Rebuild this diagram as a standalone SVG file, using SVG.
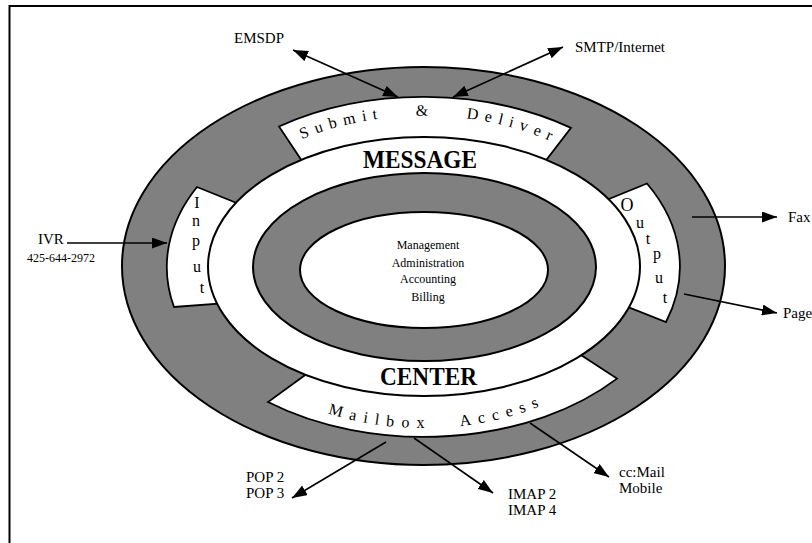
<svg xmlns="http://www.w3.org/2000/svg" width="812" height="543" viewBox="0 0 812 543">
<style>
.frame{stroke:#000;stroke-width:2;fill:none}
.grey{fill:#808080;stroke:#000;stroke-width:2}
.white{fill:#fff;stroke:#000;stroke-width:2}
.band{fill:#fff;stroke:#000;stroke-width:1.8;stroke-linejoin:miter}
.lbl{font-family:"Liberation Serif","Times New Roman",serif;font-size:15px;fill:#000}
.small{font-family:"Liberation Serif","Times New Roman",serif;font-size:12px;fill:#000}
.big{font-family:"Liberation Serif","Times New Roman",serif;font-size:26px;font-weight:bold;fill:#000}
.curve{font-family:"Liberation Serif","Times New Roman",serif;font-size:16px;fill:#000}
.vert{font-family:"Liberation Serif","Times New Roman",serif;font-size:16px;fill:#000}
.conn{stroke:#000;stroke-width:1.6;fill:none}
</style>
<defs>
<marker id="ah" markerUnits="userSpaceOnUse" markerWidth="15" markerHeight="11" refX="15" refY="5.5" orient="auto-start-reverse">
<path d="M0,0 L15,5.5 L0,11 Z" fill="#000"/>
</marker>
<path id="pSubmit" d="M302,139.2 A228,151 0 0 1 638.3,215.4"/>
<path id="pMailbox" d="M327.9,413.3 A230,161 0 0 0 623.2,347.5"/>
</defs>
<rect width="812" height="543" fill="#fff"/>
<path class="frame" d="M9.5,543 L9.5,6 L812,6"/>

<g id="outer-ring">
<ellipse class="grey" cx="423.5" cy="266" rx="301.5" ry="199"/>
</g>
<g id="submit-deliver">
<path class="band" d="M279,126.5 A256.5,170 0 0 1 571,127.9 L537,172 L310,173 Z"/>
</g>
<g id="input">
<path class="band" d="M174,307 A256.5,170 0 0 1 197,187 L254,210 L235,302.5 Z"/>
</g>
<g id="output">
<path class="band" d="M647,183.5 A256.5,170 0 0 1 666,322 L613,301 L593,205.5 Z"/>
</g>
<g id="mailbox-access">
<path class="band" d="M268,402 A256.5,170 0 0 0 617,378.6 L567,346 L319,365 Z"/>
</g>
<g id="message-center">
<ellipse class="white" cx="424" cy="266.5" rx="216" ry="129.5"/>
<text class="big" x="420" y="168" text-anchor="middle" textLength="114" lengthAdjust="spacingAndGlyphs">MESSAGE</text>
<text class="big" x="428.5" y="385" text-anchor="middle" textLength="97" lengthAdjust="spacingAndGlyphs">CENTER</text>
</g>
<g id="middle-ring">
<ellipse class="grey" cx="424.5" cy="267" rx="171.5" ry="94"/>
</g>
<g id="core">
<ellipse class="white" cx="424" cy="270" rx="124" ry="58"/>
<text class="small" text-anchor="middle"><tspan x="428" y="249">Management</tspan><tspan x="428" y="267">Administration</tspan><tspan x="428" y="283">Accounting</tspan><tspan x="428" y="301">Billing</tspan></text>
</g>

<g id="band-labels">
<text class="curve" letter-spacing="6.5" word-spacing="21"><textPath href="#pSubmit">Submit &amp; Deliver</textPath></text>
<text class="curve" letter-spacing="7.3" word-spacing="18"><textPath href="#pMailbox">Mailbox Access</textPath></text>
<text class="vert" text-anchor="middle"><tspan x="197" y="208">I</tspan><tspan x="196" y="226">n</tspan><tspan x="196" y="246">p</tspan><tspan x="197" y="272">u</tspan><tspan x="202" y="293">t</tspan></text>
<text class="vert" text-anchor="middle"><tspan x="627" y="211" font-size="18">O</tspan><tspan x="640" y="228">u</tspan><tspan x="648" y="244">t</tspan><tspan x="657" y="259">p</tspan><tspan x="659" y="283">u</tspan><tspan x="665" y="303">t</tspan></text>
</g>

<g id="connectors">
<line class="conn" x1="293" y1="50" x2="398" y2="97" marker-start="url(#ah)" marker-end="url(#ah)"/>
<line class="conn" x1="563" y1="47" x2="453" y2="97" marker-start="url(#ah)" marker-end="url(#ah)"/>
<line class="conn" x1="67" y1="243" x2="167" y2="243" marker-end="url(#ah)"/>
<line class="conn" x1="692" y1="217" x2="777" y2="217" marker-end="url(#ah)"/>
<line class="conn" x1="684" y1="294" x2="777" y2="313" marker-end="url(#ah)"/>
<line class="conn" x1="386" y1="442" x2="292" y2="498" marker-end="url(#ah)"/>
<line class="conn" x1="414" y1="438" x2="493" y2="493" marker-end="url(#ah)"/>
<line class="conn" x1="530" y1="423" x2="609" y2="477" marker-end="url(#ah)"/>
</g>

<g id="emsdp"><text class="lbl" x="234" y="43">EMSDP</text></g>
<g id="smtp"><text class="lbl" x="575" y="52">SMTP/Internet</text></g>
<g id="ivr"><text class="lbl" x="38" y="244">IVR</text><text class="small" x="27" y="262">425-644-2972</text></g>
<g id="fax"><text class="lbl" x="788" y="222">Fax</text></g>
<g id="pager"><text class="lbl" x="783" y="318">Page</text></g>
<g id="pop"><text class="lbl"><tspan x="246" y="482">POP 2</tspan><tspan x="246" y="498">POP 3</tspan></text></g>
<g id="imap"><text class="lbl"><tspan x="508" y="499">IMAP 2</tspan><tspan x="508" y="515">IMAP 4</tspan></text></g>
<g id="ccmail"><text class="lbl"><tspan x="619" y="477">cc:Mail</tspan><tspan x="619" y="493">Mobile</tspan></text></g>
</svg>
